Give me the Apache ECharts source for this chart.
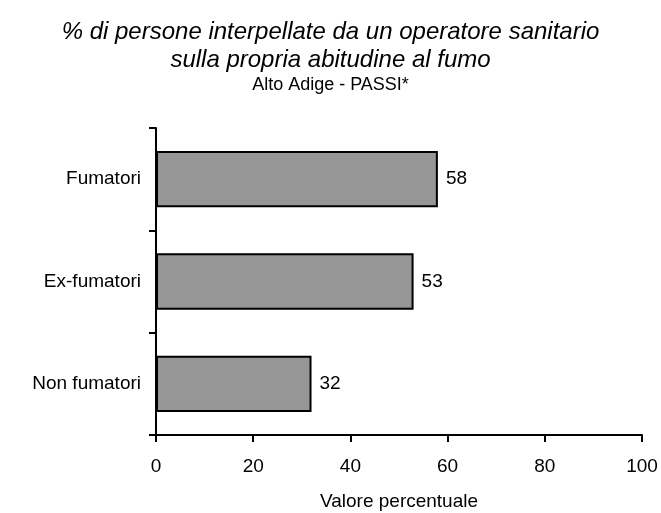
<!DOCTYPE html>
<html>
<head>
<meta charset="utf-8">
<script src="https://cdn.jsdelivr.net/npm/echarts@6/dist/echarts.min.js"></script>
<style>
  html, body { margin: 0; padding: 0; background: #fff; }
  #main { width: 661px; height: 513px; }
</style>
</head>
<body>
<div id="main"></div>
<script>
var categories = ['Non fumatori', 'Ex-fumatori', 'Fumatori']
var values = [32, 53, 58]
var xTicks = [0, 20, 40, 60, 80, 100]

var myChart = echarts.init(document.getElementById('main'))
var font = 'Liberation Sans, Arial, sans-serif'

myChart.setOption({
  animation: false,
  title: [
    {
      text: '% di persone interpellate da un operatore sanitario\nsulla propria abitudine al fumo',
      left: 'center',
      top: 13,
      textStyle: {
        fontFamily: font,
        fontSize: 24,
        fontStyle: 'italic',
        fontWeight: 'normal',
        color: '#000',
        lineHeight: 28
      }
    },
    {
      text: 'Alto Adige - PASSI*',
      left: 'center',
      top: 71,
      textStyle: {
        fontFamily: font,
        fontSize: 18,
        fontWeight: 'normal',
        color: '#000'
      }
    }
  ],
  grid: {
    left: 156,
    right: 19,
    top: 128,
    bottom: 78,
    containLabel: false,
    outerBoundsMode: 'none'
  },
  xAxis: {
    type: 'value',
    min: 0,
    max: 100,
    interval: 20,
    name: 'Valore percentuale',
    nameLocation: 'middle',
    nameGap: 57,
    nameTextStyle: { fontFamily: font, fontSize: 19, color: '#000' },
    axisLine: { show: true, lineStyle: { color: '#000', width: 2 } },
    axisTick: { show: true, length: 7, lineStyle: { color: '#000', width: 2 } },
    axisLabel: {
      fontFamily: font, fontSize: 19, color: '#000', margin: 22,
      formatter: function (v) { return xTicks.indexOf(v) >= 0 ? String(v) : '' }
    },
    splitLine: { show: false }
  },
  yAxis: {
    type: 'category',
    data: categories,
    axisLine: { show: true, lineStyle: { color: '#000', width: 2 } },
    axisTick: { show: true, length: 7, alignWithLabel: false, lineStyle: { color: '#000', width: 2 } },
    axisLabel: { fontFamily: font, fontSize: 19, color: '#000', margin: 15 },
    splitLine: { show: false }
  },
  series: [
    {
      type: 'bar',
      data: values,
      barWidth: '55%',
      itemStyle: {
        color: '#969696',
        borderColor: '#000',
        borderWidth: 2
      },
      label: {
        show: true,
        position: 'right',
        distance: 8,
        fontFamily: font,
        fontSize: 19,
        color: '#000'
      }
    }
  ]
})
window.addEventListener('resize', function () {
  myChart.resize()
})
</script>
</body>
</html>
